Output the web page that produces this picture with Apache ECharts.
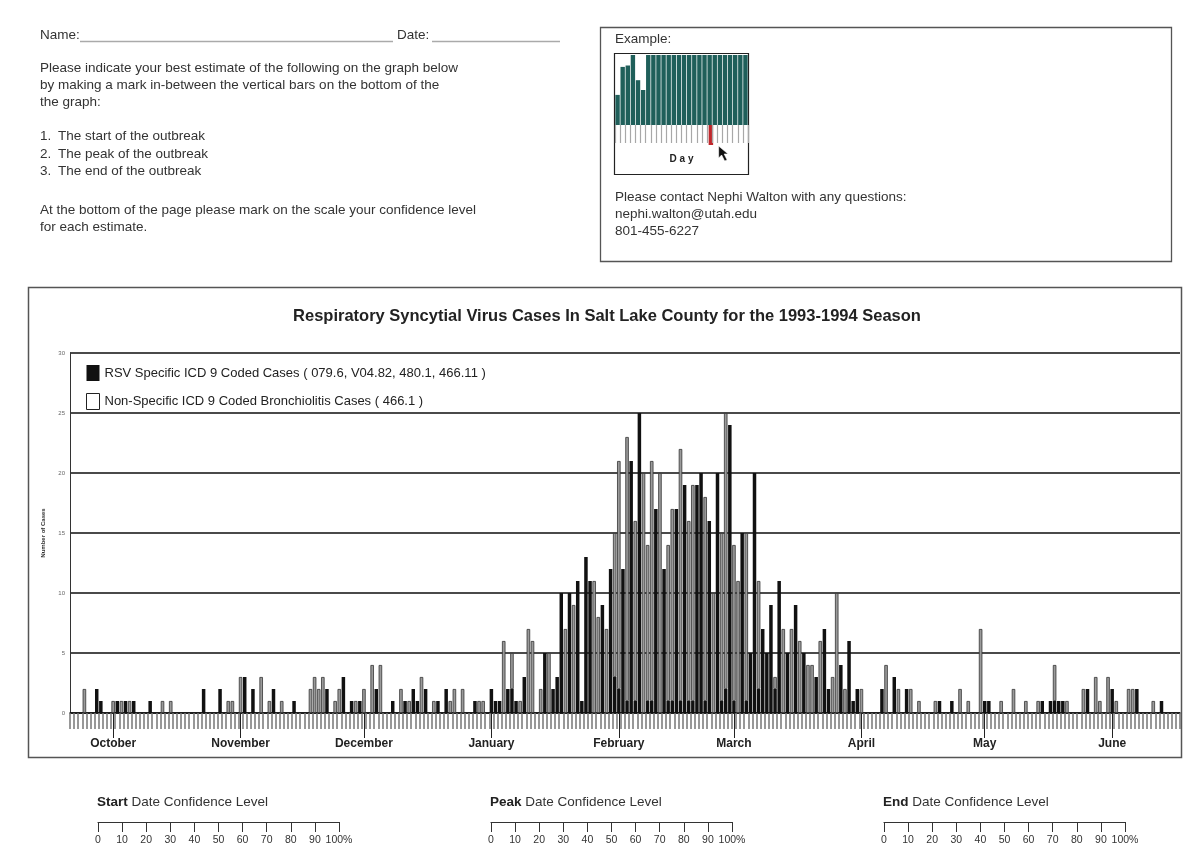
<!DOCTYPE html>
<html>
<head>
<meta charset="utf-8">
<script src="https://cdn.jsdelivr.net/npm/echarts@6/dist/echarts.min.js"></script>
<style>html,body{margin:0;padding:0;background:#fff}#c{width:1200px;height:866px}</style>
</head>
<body>
<div id="c"></div>
<script>
// ---- data ----
const seasonStart = [1993, 8, 21]; // 21 Sep 1993, first day on the axis
const monthNames = ['January','February','March','April','May','June','July','August','September','October','November','December'];

const rsvName = 'RSV Specific ICD 9 Coded Cases ( 079.6, V04.82, 480.1, 466.11 )';
const nonSpecificName = 'Non-Specific ICD 9 Coded Bronchiolitis Cases ( 466.1 )';

// daily RSV specific cases (black, bottom of each day's bar)
const rsvCases = [
  0,0,0,0,0,0,2,1,0,0,
  0,1,0,1,0,1,0,0,0,1,
  0,0,0,0,0,0,0,0,0,0,
  0,0,2,0,0,0,2,0,0,0,
  0,0,3,0,2,0,0,0,0,2,
  0,0,0,0,1,0,0,0,0,0,
  0,0,2,0,0,0,3,0,1,0,
  1,0,0,0,2,0,0,0,1,0,
  0,1,0,2,1,0,2,0,0,1,
  0,2,0,0,0,0,0,0,1,0,
  0,0,2,1,1,0,2,2,1,0,
  3,0,0,0,0,5,0,2,3,10,
  0,10,0,11,1,13,11,0,0,9,
  0,12,3,2,12,1,21,1,25,0,
  1,1,17,0,12,1,1,17,1,19,
  1,1,19,20,1,16,0,20,1,2,
  24,1,0,15,1,5,20,2,7,5,
  9,2,11,0,5,0,9,0,5,0,
  0,3,0,7,2,0,0,4,0,6,
  1,2,0,0,0,0,0,2,0,0,
  3,0,0,2,0,0,0,0,0,0,
  0,1,0,0,1,0,0,0,0,0,
  0,0,1,1,0,0,0,0,0,0,
  0,0,0,0,0,0,1,0,1,1,
  1,1,0,0,0,0,0,2,0,0,
  0,0,0,2,0,0,0,0,0,2,
  0,0,0,0,0,1,0,0,0,0
];

// daily non-specific bronchiolitis cases (stacked above)
const nonSpecificCases = [
  0,0,0,2,0,0,0,0,0,0,
  1,0,1,0,1,0,0,0,0,0,
  0,0,1,0,1,0,0,0,0,0,
  0,0,0,0,0,0,0,0,1,1,
  0,3,0,0,0,0,3,0,1,0,
  0,1,0,0,0,0,0,0,2,3,
  2,3,0,0,1,2,0,0,0,1,
  0,2,0,4,0,4,0,0,0,0,
  2,0,1,0,0,3,0,0,1,0,
  0,0,1,2,0,2,0,0,0,1,
  1,0,0,0,0,6,0,3,0,1,
  0,7,6,0,2,0,5,0,0,0,
  7,0,9,0,0,0,0,11,8,0,
  7,0,12,19,0,22,0,15,0,20,
  13,20,0,20,0,13,16,0,21,0,
  15,18,0,0,17,0,10,0,14,23,
  0,13,11,0,14,0,0,9,0,0,
  0,1,0,7,0,7,0,6,0,4,
  4,0,6,0,0,3,10,0,2,0,
  0,0,2,0,0,0,0,0,4,0,
  0,2,0,0,2,0,1,0,0,0,
  1,0,0,0,0,0,2,0,1,0,
  0,7,0,0,0,0,1,0,0,2,
  0,0,1,0,0,1,0,0,0,3,
  0,0,1,0,0,0,2,0,0,3,
  1,0,3,0,1,0,0,2,2,0,
  0,0,0,1,0,0,0,0,0,0
];

// example thumbnail
const exampleValues = [4.3,8.3,8.5,10,6.4,5,10,10,10,10,10,10,10,10,10,10,10,10,10,10,10,10,10,10,10,10];
const exampleMarkDay = 18;

// confidence scale
const confidenceMin = 0, confidenceMax = 100, confidenceStep = 10;
const confidenceScales = [
  {bold: 'Start', left: 98},
  {bold: 'Peak', left: 491},
  {bold: 'End', left: 884}
];

// ---- build ----
const categories = rsvCases.map((_, i) => {
  const d = new Date(Date.UTC(seasonStart[0], seasonStart[1], seasonStart[2] + i));
  return d.toISOString().slice(0, 10);
});
const isMonthStart = v => v.slice(8) === '01';
const exampleDays = exampleValues.map((_, i) => String(i + 1));

const FF = '"Liberation Sans", Arial, sans-serif';
const TXT = '#333';
const FORM_FONT = '13.5px ' + FF;

const grids = [
  {left: 70, top: 353, width: 1110, height: 360, outerBoundsMode: 'none', containLabel: false},
  {left: 615, top: 55, width: 133, height: 70, outerBoundsMode: 'none', containLabel: false}
];
confidenceScales.forEach(s => grids.push({left: s.left, top: 821, width: 241, height: 1, outerBoundsMode: 'none', containLabel: false}));

const xAxes = [
  {
    type: 'category', gridIndex: 0, data: categories, boundaryGap: true, position: 'bottom',
    axisLine: {show: true, lineStyle: {color: '#111', width: 1.5}},
    axisTick: {show: true, interval: 0, length: 16, lineStyle: {color: '#777', width: 1.5}},
    axisLabel: {
      show: true, interval: (i, v) => isMonthStart(v),
      formatter: v => monthNames[parseInt(v.slice(5, 7), 10) - 1],
      margin: 25, fontSize: 12, fontWeight: 'bold', color: '#222', fontFamily: FF
    },
    splitLine: {show: false}
  },
  {
    type: 'category', gridIndex: 0, data: categories, boundaryGap: true, position: 'bottom', offset: 0,
    axisLine: {show: false},
    axisTick: {show: true, alignWithLabel: true, interval: (i, v) => isMonthStart(v), length: 25, lineStyle: {color: '#222', width: 1}},
    axisLabel: {show: false},
    splitLine: {show: false}
  },
  {
    type: 'category', gridIndex: 1, data: exampleDays, boundaryGap: true,
    axisLine: {show: false},
    axisTick: {show: true, interval: 0, length: 18, lineStyle: {color: '#a8a8a8', width: 1.2}},
    axisLabel: {show: false},
    name: 'D a y', nameLocation: 'middle', nameGap: 29,
    nameTextStyle: {fontSize: 10, fontWeight: 'bold', color: '#222', fontFamily: FF}
  }
];
confidenceScales.forEach((s, k) => xAxes.push({
  type: 'value', gridIndex: 2 + k, min: confidenceMin, max: confidenceMax, interval: confidenceStep, position: 'bottom',
  axisLine: {show: true, lineStyle: {color: '#333', width: 1.2}},
  axisTick: {show: true, inside: false, length: 10, lineStyle: {color: '#333', width: 1}},
  axisLabel: {show: true, margin: 13, fontSize: 10.5, color: TXT, fontFamily: FF, formatter: v => v === confidenceMax ? v + '%' : String(v)},
  splitLine: {show: false}
}));

const yAxes = [
  {
    type: 'value', gridIndex: 0, min: 0, max: 30, interval: 5,
    axisLine: {show: true, lineStyle: {color: '#333', width: 1}},
    axisTick: {show: false},
    axisLabel: {show: true, fontSize: 6, color: '#666', margin: 5, fontFamily: FF},
    splitLine: {show: true, lineStyle: {color: '#4a4a4a', width: 2}},
    name: 'Number of Cases', nameLocation: 'middle', nameGap: 24, nameRotate: 90,
    nameTextStyle: {fontSize: 6, fontWeight: 'bold', color: '#333', fontFamily: FF}
  },
  {type: 'value', gridIndex: 1, min: 0, max: 10, show: false}
];
confidenceScales.forEach((s, k) => yAxes.push({type: 'value', gridIndex: 2 + k, show: false, min: 0, max: 1}));

const series = [
  {
    type: 'bar', name: rsvName, xAxisIndex: 0, yAxisIndex: 0, stack: 'cases',
    data: rsvCases, barWidth: 3.5, silent: true,
    itemStyle: {color: '#111'}
  },
  {
    type: 'bar', name: nonSpecificName, xAxisIndex: 0, yAxisIndex: 0, stack: 'cases',
    data: nonSpecificCases.map(v => v === 0 ? null : v), barWidth: 3.5, silent: true,
    itemStyle: {color: '#9a9a9a', borderColor: '#333', borderWidth: 0.8}
  },
  {
    type: 'bar', name: 'example', xAxisIndex: 2, yAxisIndex: 1,
    data: exampleValues, barCategoryGap: '14%', silent: true,
    itemStyle: {color: '#1f5f5a'}
  }
];

function T(text, x, y, extra) {
  return {type: 'text', silent: true, style: Object.assign({
    text: text, x: x, y: y, fill: TXT, font: FORM_FONT, textVerticalAlign: 'middle', textAlign: 'left'
  }, extra || {})};
}
function L(x1, y1, x2, y2, color, w) {
  return {type: 'line', silent: true, shape: {x1, y1, x2, y2}, style: {stroke: color, lineWidth: w}};
}
function R(x, y, w, h, stroke, lw) {
  return {type: 'rect', silent: true, shape: {x, y, width: w, height: h}, style: {fill: 'none', stroke: stroke, lineWidth: lw}};
}

function buildGraphic(markX) {
  const g = [
    T('Name:', 40, 35), L(80, 41.5, 393, 41.5, '#aaa', 1.5),
    T('Date:', 397, 35), L(432, 41.5, 560, 41.5, '#aaa', 1.5),
    T('Please indicate your best estimate of the following on the graph below', 40, 68),
    T('by making a mark in-between the vertical bars on the bottom of the', 40, 85),
    T('the graph:', 40, 102),
    T('1.', 40, 136), T('The start of the outbreak', 58, 136),
    T('2.', 40, 154), T('The peak of the outbreak', 58, 154),
    T('3.', 40, 171), T('The end of the outbreak', 58, 171),
    T('At the bottom of the page please mark on the scale your confidence level', 40, 210),
    T('for each estimate.', 40, 227),
    R(600.5, 27.5, 571, 234, '#555', 1.3),
    T('Example:', 615, 39),
    R(614.5, 53.5, 134, 121, '#222', 1.2),
    T('Please contact Nephi Walton with any questions:', 615, 197),
    T('nephi.walton@utah.edu', 615, 214),
    T('801-455-6227', 615, 231),
    R(28.5, 287.5, 1153, 470, '#555', 1.5),
    T('Respiratory Syncytial Virus Cases In Salt Lake County for the 1993-1994 Season', 607, 316,
      {font: 'bold 16.5px ' + FF, fill: '#222', textAlign: 'center'})
  ];
  confidenceScales.forEach(s => {
    g.push({type: 'text', silent: true, style: {
      text: '{b|' + s.bold + '} Date Confidence Level', x: s.left - 1, y: 802,
      fill: TXT, font: FORM_FONT, textVerticalAlign: 'middle',
      rich: {b: {fontWeight: 'bold', fontSize: 13.5, fontFamily: FF, fill: '#222'}}
    }});
  });
  if (markX != null) {
    g.push({type: 'rect', silent: true, shape: {x: markX - 1, y: 125, width: 4.5, height: 20}, style: {fill: '#c0262b'}});
    g.push({type: 'polygon', silent: true, x: markX + 9, y: 146,
      shape: {points: [[0,0],[0,12],[3,9],[6,15],[8.5,14],[5.5,8],[9.5,8]]},
      style: {fill: '#111', stroke: '#fff', lineWidth: 0.6}});
  }
  return g;
}

const chart = echarts.init(document.getElementById('c'), null, {renderer: 'canvas'});
chart.setOption({
  animation: false,
  backgroundColor: '#fff',
  textStyle: {fontFamily: FF},
  grid: grids,
  xAxis: xAxes,
  yAxis: yAxes,
  legend: {
    show: true, selectedMode: false, orient: 'vertical', left: 81, top: 360,
    itemWidth: 13, itemHeight: 16, itemGap: 12, icon: 'rect',
    textStyle: {fontSize: 13, color: '#222', fontFamily: FF},
    data: [
      {name: rsvName, itemStyle: {color: '#111'}},
      {name: nonSpecificName, itemStyle: {color: '#fff', borderColor: '#222', borderWidth: 1}}
    ]
  },
  series: series,
  graphic: buildGraphic(null)
});
const markX = chart.convertToPixel({xAxisIndex: 2}, exampleDays[exampleMarkDay]);
chart.setOption({graphic: buildGraphic(markX)}, {replaceMerge: ['graphic']});
</script>
</body>
</html>
